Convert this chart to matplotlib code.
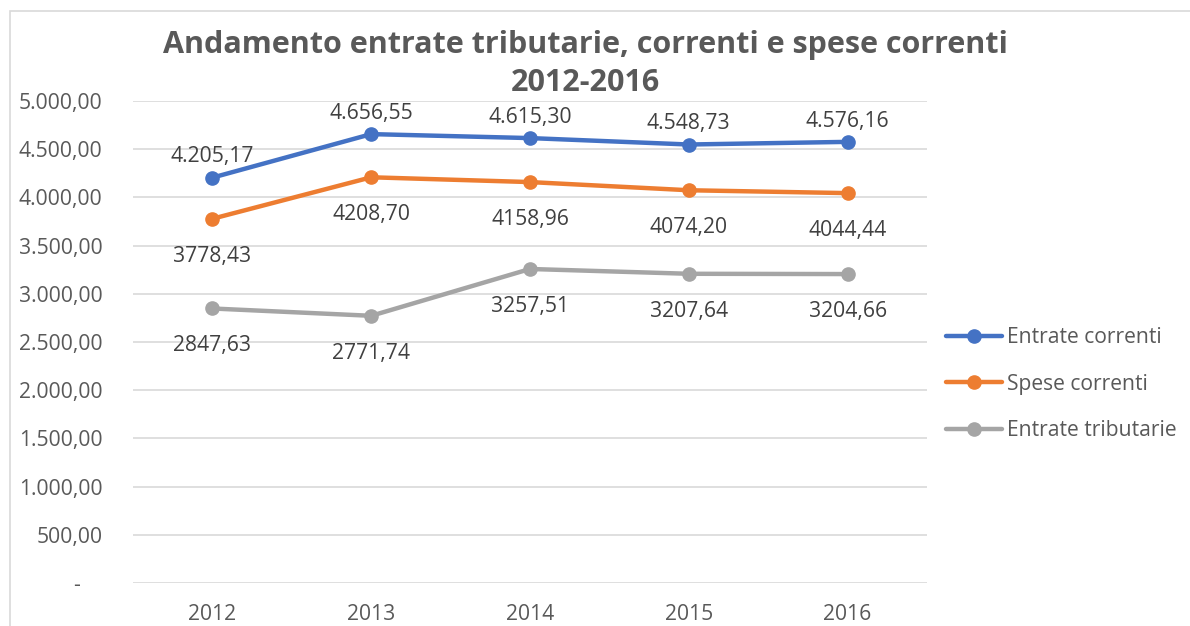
import matplotlib
matplotlib.use("Agg")
import matplotlib.pyplot as plt
from matplotlib.patches import Rectangle
from matplotlib.ticker import FuncFormatter

plt.rcParams['font.family'] = ['Open Sans', 'DejaVu Sans']

# --------------------------------------------------
# Data
# --------------------------------------------------
years = ['2012', '2013', '2014', '2015', '2016']
entrate_correnti = [4205.17, 4656.55, 4615.30, 4548.73, 4576.16]
spese_correnti = [3778.43, 4208.70, 4158.96, 4074.20, 4044.44]
entrate_tributarie = [2847.63, 2771.74, 3257.51, 3207.64, 3204.66]
y_ticks = [0, 500, 1000, 1500, 2000, 2500, 3000, 3500, 4000, 4500, 5000]

TEXT = '#595959'
LABEL = '#404040'
GRID = '#D9D9D9'
FS = 15.2


def fmt_it(v, thousands=True):
    # Italian number format: '.' thousands, ',' decimals
    s = f"{v:,.2f}" if thousands else f"{v:.2f}"
    return s.replace(',', 'X').replace('.', ',').replace('X', '.')


def axis_fmt(v, pos):
    if v == 0:
        return '-    '
    return fmt_it(v)


fig = plt.figure(figsize=(11.9, 6.26), dpi=100)
ax = fig.add_axes([133 / 1190, 1 - 583 / 626, (927 - 133) / 1190, (583 - 101) / 626])

# chart border (cropped on right and bottom)
fig.patches.append(Rectangle((10 / 1190, -0.2), 1.5, 1.2 - 11 / 626,
                             transform=fig.transFigure, fill=False,
                             edgecolor=GRID, linewidth=1.2))

x = list(range(len(years)))
series = [
    (entrate_correnti, 'Entrate correnti', '#4472C4', True),
    (spese_correnti, 'Spese correnti', '#ED7D31', False),
    (entrate_tributarie, 'Entrate tributarie', '#A5A5A5', False),
]

for vals, name, col, above in series:
    ax.plot(x, vals, color=col, linewidth=3.2, marker='o', markersize=9.5,
            label=name, solid_capstyle='round', zorder=3)
    for xi, v in zip(x, vals):
        if above:
            ax.annotate(fmt_it(v), (xi, v), xytext=(0, 15), textcoords='offset points',
                        ha='center', va='center', fontsize=FS, color=LABEL)
        else:
            ax.annotate(fmt_it(v, thousands=False), (xi, v), xytext=(0, -27),
                        textcoords='offset points', ha='center', va='center',
                        fontsize=FS, color=LABEL)

ax.set_xlim(-0.5, 4.5)
ax.set_ylim(0, 5000)
ax.set_xticks(x)
ax.set_xticklabels(years)
ax.set_yticks(y_ticks)
ax.yaxis.set_major_formatter(FuncFormatter(axis_fmt))

ax.grid(axis='y', color=GRID, linewidth=1.2)
ax.set_axisbelow(True)
for s in ax.spines.values():
    s.set_visible(False)
ax.tick_params(axis='both', length=0, labelsize=FS, colors=TEXT)
ax.tick_params(axis='y', pad=22)
ax.tick_params(axis='x', pad=15)

fig.text(585 / 1190, 1 - 64 / 626,
         'Andamento entrate tributarie, correnti e spese correnti\n2012-2016',
         ha='center', va='center', fontsize=22, fontweight='bold', color=TEXT,
         linespacing=1.38)

leg = ax.legend(loc='upper left', bbox_to_anchor=(938 / 1190, 1 - 319 / 626),
                bbox_transform=fig.transFigure, frameon=False, fontsize=FS,
                handlelength=2.65, handletextpad=0.2, labelspacing=1.2,
                borderaxespad=0)
for t in leg.get_texts():
    t.set_color(TEXT)

fig.savefig('out.png', dpi=100)
